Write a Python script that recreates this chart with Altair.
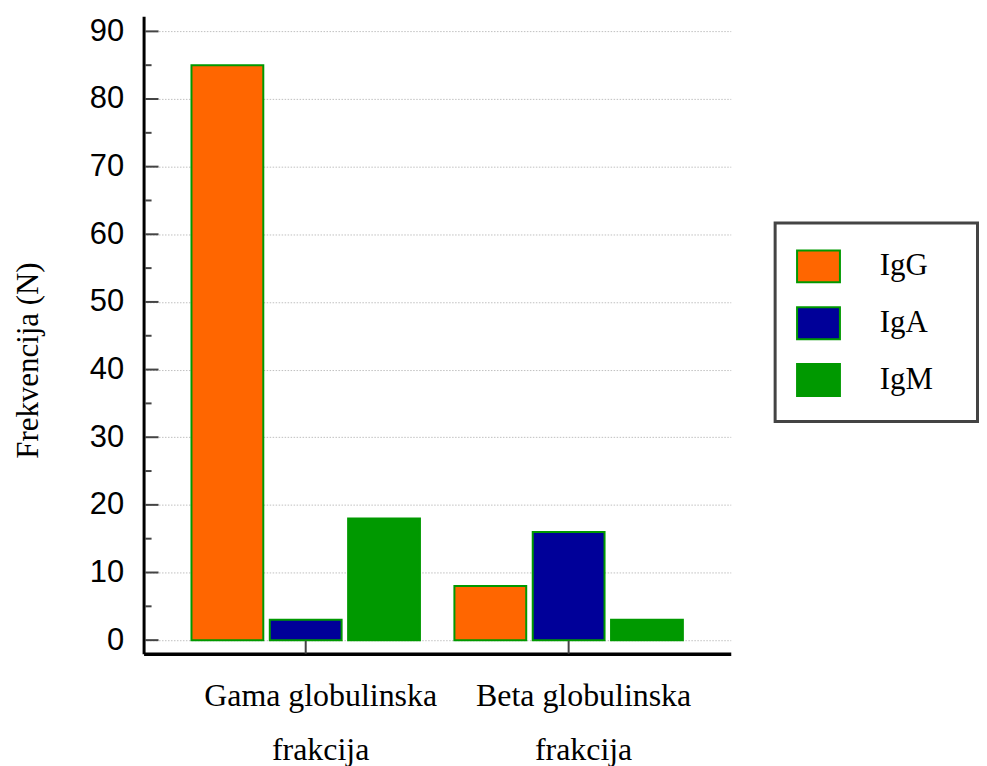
import altair as alt
import pandas as pd

categories = ["Gama globulinska frakcija", "Beta globulinska frakcija"]
series = ["IgG", "IgA", "IgM"]
igg = [85, 8]
iga = [3, 16]
igm = [18, 3]
colors = ["#FF6600", "#000099", "#009900"]
y_major = [0, 10, 20, 30, 40, 50, 60, 70, 80, 90]
y_minor = [5, 15, 25, 35, 45, 55, 65, 75, 85]
y_domain = [-2, 92.25]

rows = []
for i, c in enumerate(categories):
    for s, vals in zip(series, [igg, iga, igm]):
        rows.append({"kategorija": c, "imunoglobulin": s, "frekvencija": vals[i]})
df = pd.DataFrame(rows)

W, H = 589, 639.5

x_axis = alt.Axis(
    title=None,
    labelExpr="[replace(datum.label, ' frakcija', ''), 'frakcija']",
    labelFont="Liberation Serif", labelFontSize=32, labelColor="black",
    labelLineHeight=54, labelPadding=27, labelOffset=15, labelAngle=0,
    labelLimit=1000,
    ticks=False, tickSize=0, domainColor="black", domainWidth=3.5, grid=False,
)
y_axis = alt.Axis(
    values=y_major, title="Frekvencija (N)",
    titleFont="Liberation Serif", titleFontSize=31, titleFontWeight="normal",
    titleColor="black", titleAngle=270, titleX=-115, titleY=345,
    titleAlign="center", titleBaseline="middle",
    labelFont="Liberation Sans", labelFontSize=31, labelColor="black",
    labelPadding=20, ticks=False, tickSize=0,
    domainColor="black", domainWidth=3,
    grid=True, gridColor="#c0c0c0", gridDash=[1.5, 1.5], gridWidth=1,
)
x_scale = alt.Scale(paddingInner=0, paddingOuter=0.1166)
y_scale = alt.Scale(domain=y_domain, nice=False, zero=False)

bars = alt.Chart(df).mark_bar(stroke="#009900", strokeWidth=2, opacity=1).encode(
    x=alt.X("kategorija:N", sort=categories, scale=x_scale, axis=x_axis),
    xOffset=alt.XOffset("imunoglobulin:N", sort=series,
                        scale=alt.Scale(paddingInner=0.083, paddingOuter=0.22)),
    y=alt.Y("frekvencija:Q", scale=y_scale, axis=y_axis),
    y2=alt.datum(0),
    color=alt.Color(
        "imunoglobulin:N", sort=series,
        scale=alt.Scale(domain=series, range=colors),
        legend=alt.Legend(
            title=None, orient="none", legendX=633.5, legendY=207.5,
            symbolType="M-1,-0.744L1,-0.744L1,0.744L-1,0.744Z", symbolSize=1849,
            symbolStrokeColor="#009900", symbolStrokeWidth=2, symbolOpacity=1,
            labelFont="Liberation Serif", labelFontSize=31, labelColor="black",
            labelOffset=39, rowPadding=14, padding=21, labelLimit=1000,
            strokeColor="#444444", fillColor="white",
            labelExpr="datum.label + '\u00a0\u00a0\u00a0\u200b'",
        ),
    ),
)

major_ticks = alt.Chart(pd.DataFrame({"frekvencija": y_major})).mark_rule(
    color="#444444", strokeWidth=2
).encode(
    y=alt.Y("frekvencija:Q", scale=y_scale, axis=y_axis),
    x=alt.value(1.5), x2=alt.value(15),
)
minor_ticks = alt.Chart(pd.DataFrame({"frekvencija": y_minor})).mark_rule(
    color="#444444", strokeWidth=2
).encode(
    y=alt.Y("frekvencija:Q", scale=y_scale, axis=y_axis),
    x=alt.value(1.5), x2=alt.value(8),
)
x_ticks = alt.Chart(pd.DataFrame({"kategorija": categories})).mark_rule(
    color="#444444", strokeWidth=2
).encode(
    x=alt.X("kategorija:N", sort=categories, scale=x_scale, axis=x_axis),
    y=alt.value(H - 13), y2=alt.value(H),
)

chart = alt.layer(bars, major_ticks, minor_ticks, x_ticks).properties(
    width=W, height=H,
    padding={"left": 5, "top": 6, "right": 0, "bottom": 0},
).configure_view(stroke=None).configure_legend(strokeWidth=3)

chart.save("out.html", embed_options={"renderer": "svg", "actions": False})
